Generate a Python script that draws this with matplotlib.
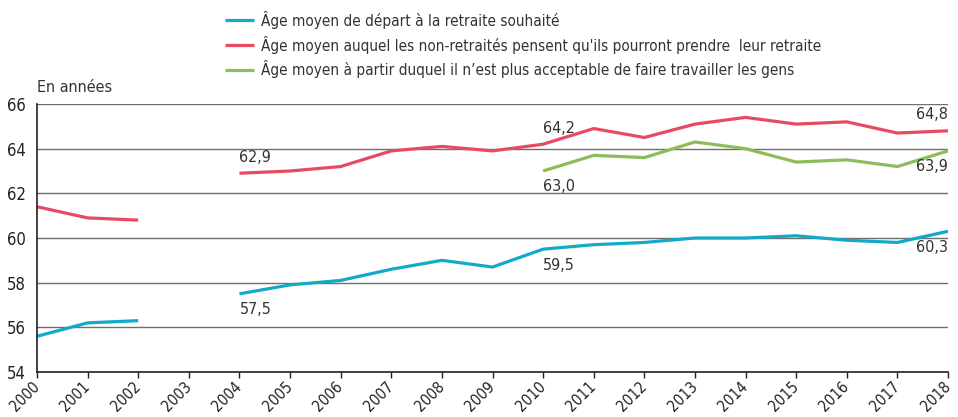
import numpy as np
import matplotlib.pyplot as plt
import matplotlib.transforms as mtransforms

# Data
years = list(range(2000, 2019))
souhaite = [55.6, 56.2, 56.3, np.nan, 57.5, 57.9, 58.1, 58.6, 59.0, 58.7,
            59.5, 59.7, 59.8, 60.0, 60.0, 60.1, 59.9, 59.8, 60.3]
pourront = [61.4, 60.9, 60.8, np.nan, 62.9, 63.0, 63.2, 63.9, 64.1, 63.9,
            64.2, 64.9, 64.5, 65.1, 65.4, 65.1, 65.2, 64.7, 64.8]
acceptable = [np.nan] * 10 + [63.0, 63.7, 63.6, 64.3, 64.0, 63.4, 63.5,
                              63.2, 63.9]
labels = ['Âge moyen de départ à la retraite souhaité',
          "Âge moyen auquel les non-retraités pensent qu'ils pourront prendre  leur retraite",
          'Âge moyen à partir duquel il n’est plus acceptable de faire travailler les gens']
colors = ['#12aac8', '#e84a5f', '#8cbd5b']

plt.rcParams['font.family'] = ['DejaVu Sans']
plt.rcParams['font.stretch'] = 'condensed'
plt.rc('font', size=11.5)

fig = plt.figure(figsize=[9.58, 4.17], dpi=100)
ax = fig.add_axes([37/958, 45/417, 911/958, 268/417])

lines = []
for vals, c, lab in zip([souhaite, pourront, acceptable], colors, labels):
    l, = ax.plot(years, vals, color=c, lw=2.3, label=lab, solid_capstyle='butt')
    lines.append(l)

ax.set_xlim(2000, 2018)
ax.set_ylim(54, 66)
ax.set_yticks(range(54, 67, 2))
ax.set_xticks(years)
ax.set_xticklabels([str(y) for y in years], rotation=45, ha='right',
                   va='center', rotation_mode='anchor', color='#222222',
                   fontsize=11)
shift = mtransforms.ScaledTranslation(6/100, 0, fig.dpi_scale_trans)
for t in ax.get_xticklabels():
    t.set_transform(t.get_transform() + shift)
ax.tick_params(axis='x', length=4, width=1, color='#222222', pad=5)
ax.tick_params(axis='y', length=0, pad=8, labelcolor='#222222', labelsize=12)
ax.grid(axis='y', color='#6f6f6f', lw=1)
ax.set_axisbelow(True)
for s in ['top', 'right']:
    ax.spines[s].set_visible(False)
for s in ['left', 'bottom']:
    ax.spines[s].set_color('#222222')
    ax.spines[s].set_linewidth(1.2)

# value labels
tc = '#333333'
ax.annotate('62,9', (2004, pourront[4]), xytext=(0, 6), textcoords='offset points',
            ha='left', va='bottom', color=tc)
ax.annotate('57,5', (2004, souhaite[4]), xytext=(0, -6), textcoords='offset points',
            ha='left', va='top', color=tc)
ax.annotate('64,2', (2010, pourront[10]), xytext=(0, 6), textcoords='offset points',
            ha='left', va='bottom', color=tc)
ax.annotate('63,0', (2010, acceptable[10]), xytext=(0, -6), textcoords='offset points',
            ha='left', va='top', color=tc)
ax.annotate('59,5', (2010, souhaite[10]), xytext=(0, -6), textcoords='offset points',
            ha='left', va='top', color=tc)
ax.annotate('64,8', (2018, pourront[18]), xytext=(0, 6), textcoords='offset points',
            ha='right', va='bottom', color=tc)
ax.annotate('63,9', (2018, acceptable[18]), xytext=(0, -6), textcoords='offset points',
            ha='right', va='top', color=tc)
ax.annotate('60,3', (2018, souhaite[18]), xytext=(0, -6), textcoords='offset points',
            ha='right', va='top', color=tc)

fig.text(37/958, 1 - 88/417, 'En années', ha='left', va='center', color=tc)

fig.legend(handles=lines, loc='upper left', bbox_to_anchor=(214/958, 1.0),
           frameon=False, handlelength=1.9, handletextpad=0.5,
           labelspacing=0.45, borderaxespad=0.3, labelcolor=tc,
           fontsize=11)

plt.savefig('out.png', dpi=100)
